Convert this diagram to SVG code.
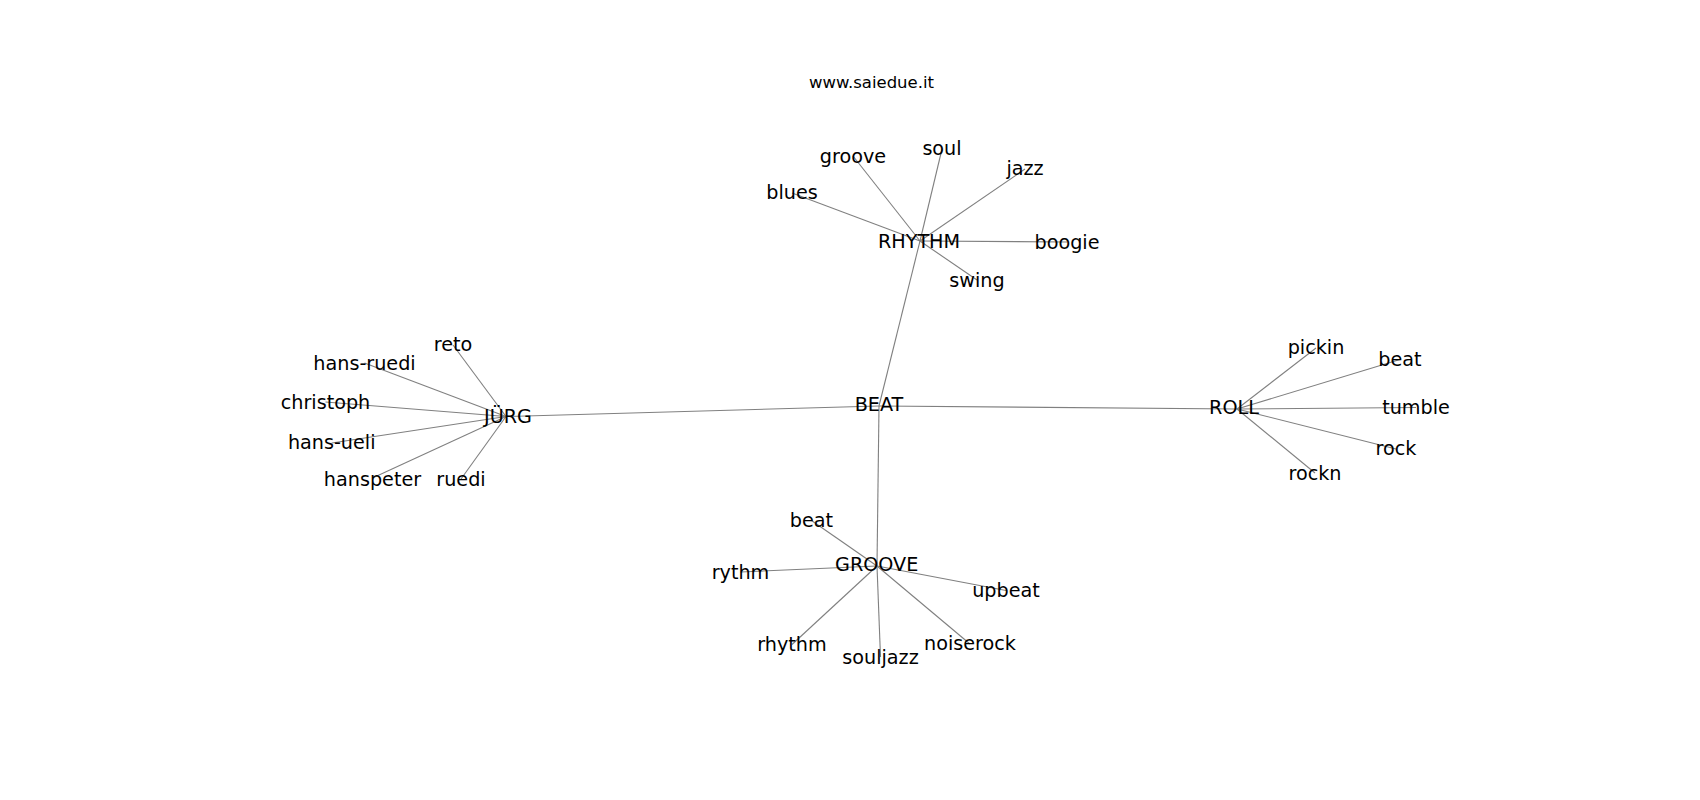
<svg xmlns="http://www.w3.org/2000/svg" width="1700" height="800" viewBox="0 0 1700 800">
<style>
  .bg { fill: #ffffff; }
  .edge { stroke: #808080; stroke-width: 1.1; fill: none; }
  .lbl { font-family: "DejaVu Sans", "Noto Sans", sans-serif; font-size: 19.2px; fill: #000000; text-anchor: middle; }
  .title { font-family: "DejaVu Sans", "Noto Sans", sans-serif; font-size: 16.5px; fill: #000000; text-anchor: middle; }
</style>
<rect class="bg" x="0" y="0" width="1700" height="800"/>
<text class="title" x="871.5" y="88">www.saiedue.it</text>
<g id="connectors">
  <line class="edge" x1="879" y1="406" x2="920" y2="241"/>
  <line class="edge" x1="879" y1="406" x2="506" y2="416.5"/>
  <line class="edge" x1="879" y1="406" x2="1237" y2="409"/>
  <line class="edge" x1="879" y1="406" x2="877" y2="566"/>
  <line class="edge" x1="920" y1="241" x2="792" y2="193"/>
  <line class="edge" x1="920" y1="241" x2="853" y2="156"/>
  <line class="edge" x1="920" y1="241" x2="942" y2="149"/>
  <line class="edge" x1="920" y1="241" x2="1025" y2="169"/>
  <line class="edge" x1="920" y1="241" x2="1067" y2="242"/>
  <line class="edge" x1="920" y1="241" x2="977" y2="280"/>
  <line class="edge" x1="506" y1="416.5" x2="453" y2="345"/>
  <line class="edge" x1="506" y1="416.5" x2="364.5" y2="363"/>
  <line class="edge" x1="506" y1="416.5" x2="325.5" y2="402"/>
  <line class="edge" x1="506" y1="416.5" x2="331.7" y2="443"/>
  <line class="edge" x1="506" y1="416.5" x2="372.5" y2="478"/>
  <line class="edge" x1="506" y1="416.5" x2="461" y2="479"/>
  <line class="edge" x1="1237" y1="409" x2="1316" y2="348"/>
  <line class="edge" x1="1237" y1="409" x2="1400" y2="359.5"/>
  <line class="edge" x1="1237" y1="409" x2="1416" y2="407.5"/>
  <line class="edge" x1="1237" y1="409" x2="1396" y2="449"/>
  <line class="edge" x1="1237" y1="409" x2="1315" y2="473"/>
  <line class="edge" x1="877" y1="566" x2="811.5" y2="520.5"/>
  <line class="edge" x1="877" y1="566" x2="740.5" y2="572"/>
  <line class="edge" x1="877" y1="566" x2="1006" y2="590.5"/>
  <line class="edge" x1="877" y1="566" x2="792" y2="644.5"/>
  <line class="edge" x1="877" y1="566" x2="880.5" y2="657"/>
  <line class="edge" x1="877" y1="566" x2="970" y2="644"/>
</g>
<g id="node-beat-center"><text class="lbl" x="879" y="410.8">BEAT</text></g>
<g id="node-rhythm-hub"><text class="lbl" x="919" y="247.8">RHYTHM</text></g>
<g id="node-blues"><text class="lbl" x="792" y="199.3">blues</text></g>
<g id="node-groove-leaf"><text class="lbl" x="853" y="162.6">groove</text></g>
<g id="node-soul"><text class="lbl" x="942" y="155.3">soul</text></g>
<g id="node-jazz"><text class="lbl" x="1025" y="175.3">jazz</text></g>
<g id="node-boogie"><text class="lbl" x="1067" y="248.6">boogie</text></g>
<g id="node-swing"><text class="lbl" x="977" y="287">swing</text></g>
<g id="node-jurg"><text class="lbl" x="508" y="423">JÜRG</text></g>
<g id="node-reto"><text class="lbl" x="453" y="351.3">reto</text></g>
<g id="node-hans-ruedi"><text class="lbl" x="364.5" y="369.6">hans-ruedi</text></g>
<g id="node-christoph"><text class="lbl" x="325.5" y="408.6">christoph</text></g>
<g id="node-hans-ueli"><text class="lbl" x="331.7" y="449.3">hans-ueli</text></g>
<g id="node-hanspeter"><text class="lbl" x="372.5" y="485.8">hanspeter</text></g>
<g id="node-ruedi"><text class="lbl" x="461" y="486">ruedi</text></g>
<g id="node-roll"><text class="lbl" x="1234" y="414.3">ROLL</text></g>
<g id="node-pickin"><text class="lbl" x="1316" y="354.3">pickin</text></g>
<g id="node-beat-roll"><text class="lbl" x="1400" y="366">beat</text></g>
<g id="node-tumble"><text class="lbl" x="1416" y="413.6">tumble</text></g>
<g id="node-rock"><text class="lbl" x="1396" y="455.3">rock</text></g>
<g id="node-rockn"><text class="lbl" x="1315" y="479.6">rockn</text></g>
<g id="node-groove-hub"><text class="lbl" x="876.7" y="571.3">GROOVE</text></g>
<g id="node-beat-groove"><text class="lbl" x="811.5" y="527">beat</text></g>
<g id="node-rythm"><text class="lbl" x="740.5" y="578.6">rythm</text></g>
<g id="node-upbeat"><text class="lbl" x="1006" y="597">upbeat</text></g>
<g id="node-rhythm-leaf"><text class="lbl" x="792" y="651">rhythm</text></g>
<g id="node-souljazz"><text class="lbl" x="880.5" y="663.6">souljazz</text></g>
<g id="node-noiserock"><text class="lbl" x="970" y="650.3">noiserock</text></g>
</svg>
